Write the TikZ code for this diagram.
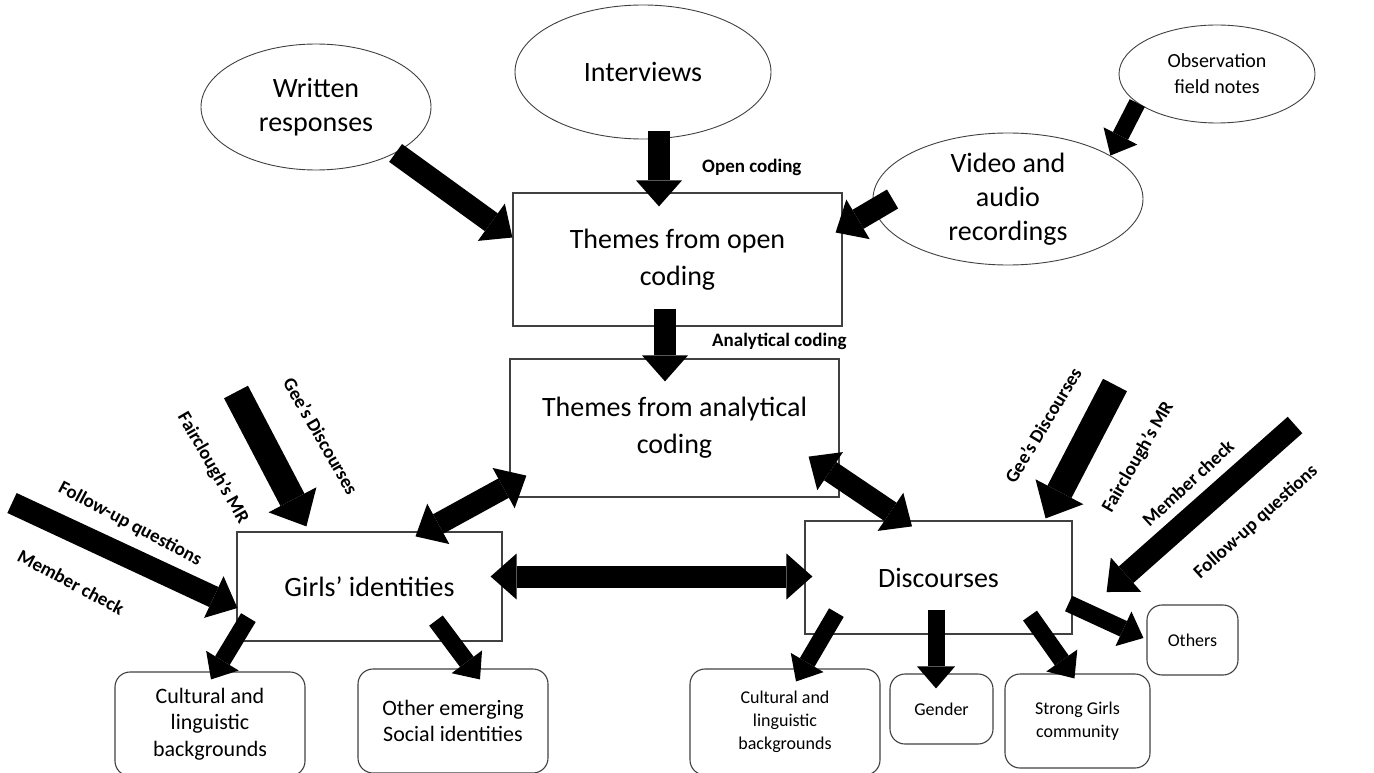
\documentclass[tikz,border=0pt]{standalone}
\usepackage{fontspec}
\setmainfont{Carlito}
\usetikzlibrary{shapes.geometric,arrows.meta,positioning}

\tikzset{
  oval/.style={draw=black!75, line width=0.9pt, ellipse, inner sep=0pt, align=center, font=\fontsize{28}{34}\selectfont},
  theme/.style={draw=black!75, line width=1.2pt, rectangle, inner sep=0pt, align=center, font=\fontsize{28}{37}\selectfont},
  leaf/.style={draw=black!75, line width=1.1pt, rounded corners=15pt, inner sep=0pt, align=center, font=\fontsize{22}{26.5}\selectfont},
  smallleaf/.style={leaf, font=\fontsize{18}{23}\selectfont},
  tag/.style={font=\bfseries\fontsize{19}{22}\selectfont, inner sep=0pt},
  flow/.style={line width=22pt, -{Triangle[width=46pt,length=26pt,line width=0pt]}},
  bigflow/.style={line width=27pt, -{Triangle[width=54pt,length=30pt,line width=0pt]}},
  smallflow/.style={line width=17pt, -{Triangle[width=38pt,length=22pt,line width=0pt]}},
  bothflow/.style={line width=22pt, {Triangle[width=46pt,length=26pt,line width=0pt]}-{Triangle[width=46pt,length=26pt,line width=0pt]}}
}

\begin{document}
\begin{tikzpicture}[x=1pt,y=-1pt]
	\useasboundingbox (0,0) rectangle (1374,773);
	\clip (0,0) rectangle (1374,773);

	% data sources
	\node[oval, minimum width=230pt, minimum height=126pt] (written) at (316,107) {Written\\responses};
	\node[oval, minimum width=256pt, minimum height=134pt] (interviews) at (643,72) {Interviews};
	\node[oval, minimum width=196pt, minimum height=98pt, font=\fontsize{20}{26}\selectfont] (observation) at (1217,74) {Observation\\field notes};
	\node[oval, minimum width=270pt, minimum height=132pt] (video) at (1008,199) {Video and\\audio\\recordings};

	% themes
	\node[theme, minimum width=329pt, minimum height=133pt] (open) at (677.5,259.5) {Themes from open\\coding};
	\node[theme, minimum width=329pt, minimum height=138pt] (analytical) at (674.5,428) {Themes from analytical\\coding};
	\node[theme, minimum width=265pt, minimum height=109pt] (girls) at (369.5,586.5) {Girls’ identities};
	\node[theme, minimum width=267pt, minimum height=113pt] (discourses) at (938.5,577.5) {Discourses};

	% sub-themes
	\node[leaf, minimum width=190pt, minimum height=104pt] (cult1) at (210,724) {Cultural and\\linguistic\\backgrounds};
	\node[leaf, minimum width=190pt, minimum height=104pt] (other) at (453,721) {Other emerging\\Social identities};
	\node[smallleaf, minimum width=190pt, minimum height=106pt] (cult2) at (785,722) {Cultural and\\linguistic\\backgrounds};
	\node[smallleaf, minimum width=103pt, minimum height=70pt] (gender) at (941.5,709) {Gender};
	\node[smallleaf, minimum width=145pt, minimum height=94pt] (strong) at (1077.5,721) {Strong Girls\\community};
	\node[smallleaf, minimum width=91pt, minimum height=70pt] (others) at (1192.5,640) {Others};

	% labels
	\node[tag, anchor=west] (opencode) at (702,167) {Open coding};
	\node[tag, anchor=west] (analyticcode) at (712,341) {Analytical coding};
	\node[tag, rotate=-60] (geesL) at (321,436) {Gee’s Discourses};
	\node[tag, rotate=-60] (faircloughL) at (213,468) {Fairclough’s MR};
	\node[tag, rotate=-28] (followL) at (130,524) {Follow-up questions};
	\node[tag, rotate=-28] (memberL) at (71,582) {Member check};
	\node[tag, rotate=59] (geesR) at (1043,425) {Gee’s Discourses};
	\node[tag, rotate=60] (faircloughR) at (1138,457) {Fairclough’s MR};
	\node[tag, rotate=43] (memberR) at (1188,483) {Member check};
	\node[tag, rotate=42] (followR) at (1256,522) {Follow-up questions};

	% free arrow tails
	\coordinate (geesLtail) at (236,392);
	\coordinate (followLtail) at (12,503);
	\coordinate (geesRtail) at (1115,385);
	\coordinate (memberRtail) at (1295,425);

	% coding flow
	\draw[flow] (written.-30) -- ([yshift=22pt]open.west);
	\draw[flow] ([xshift=16pt,yshift=8pt]interviews.south) -- ([xshift=-18.5pt,yshift=-14pt]open.north);
	\draw[flow] ([xshift=20pt]video.west) -- ([xshift=-7pt,yshift=27pt]open.east);
	\draw[smallflow] (observation.200) -- (video.23);
	\draw[flow] ([xshift=-12.5pt,yshift=18pt]open.south) -- ([xshift=-9.5pt,yshift=-23pt]analytical.north);

	% links between themes
	\draw[bothflow] ([xshift=46pt,yshift=-5pt]girls.north) -- ([xshift=17pt,yshift=22pt]analytical.south west);
	\draw[bothflow] ([xshift=-31pt,yshift=41pt]analytical.south east) -- ([xshift=-26.5pt,yshift=-6pt]discourses.north);
	\draw[bothflow] ([xshift=-12pt,yshift=10pt]girls.east) -- ([xshift=8pt,yshift=1pt]discourses.west);

	% frameworks
	\draw[bigflow] (geesLtail) -- ([xshift=70pt,yshift=5pt]girls.north west);
	\draw[flow] (followLtail) -- ([xshift=1pt,yshift=-21.5pt]girls.west);
	\draw[bigflow] (geesRtail) -- ([xshift=-27pt,yshift=2pt]discourses.north east);
	\draw[flow] (memberRtail) -- ([xshift=34pt,yshift=-14.5pt]discourses.east);

	% to sub-themes
	\draw[smallflow] ([xshift=12pt,yshift=24pt]girls.south west) -- ([xshift=1pt,yshift=-8pt]cult1.north);
	\draw[smallflow] ([xshift=66.5pt,yshift=21pt]girls.south) -- ([xshift=27pt,yshift=-11pt]other.north);
	\draw[smallflow] ([xshift=32pt,yshift=22pt]discourses.south west) -- ([xshift=11pt,yshift=-13pt]cult2.north);
	\draw[smallflow] ([xshift=-2.5pt,yshift=25pt]discourses.south) -- ([xshift=-5.5pt,yshift=-15pt]gender.north);
	\draw[smallflow] ([xshift=91.5pt,yshift=19pt]discourses.south) -- ([xshift=-3pt,yshift=-5pt]strong.north);
	\draw[smallflow] ([xshift=-4pt,yshift=-26pt]discourses.east) -- ([xshift=-3pt,yshift=2pt]others.west);
\end{tikzpicture}
\end{document}
